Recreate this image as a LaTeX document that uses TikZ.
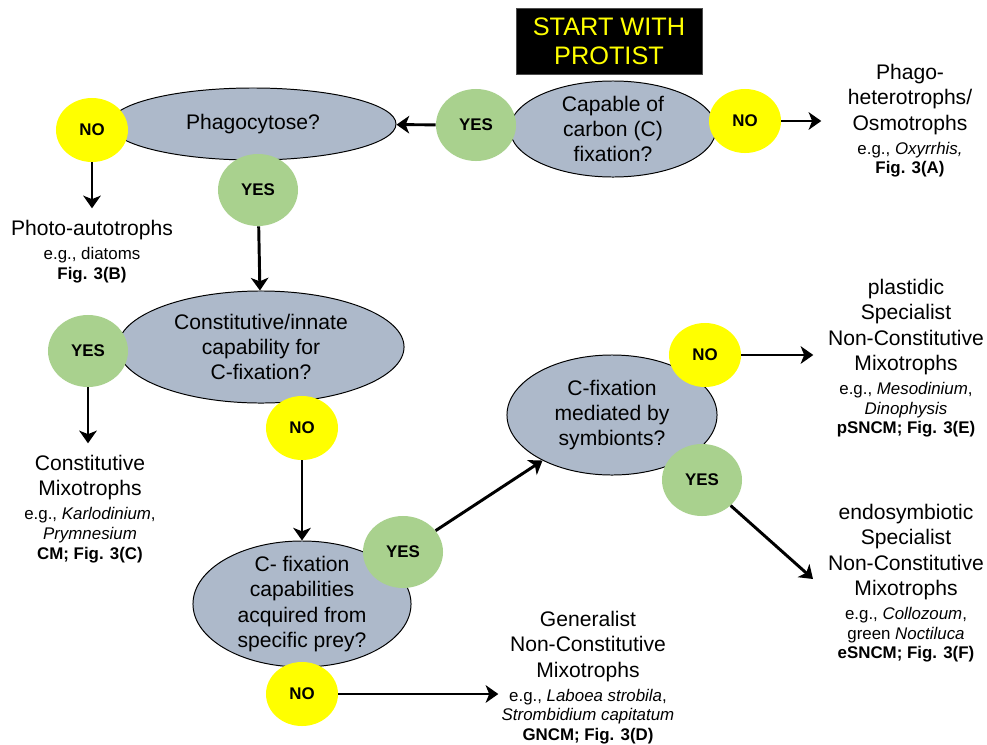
\documentclass[tikz,border=0pt]{standalone}
\usepackage{fontspec}
\setmainfont{Liberation Sans}
\usepackage{xcolor}
\usepackage{tikz}
\usetikzlibrary{shapes.geometric, positioning}
\usetikzlibrary{arrows.meta}
\tikzset{>={Stealth[length=9pt, width=12.5pt, inset=2.5pt]}}
\definecolor{qgray}{HTML}{ADB9CA}
\definecolor{yesgreen}{HTML}{A9D18E}
\definecolor{noyellow}{HTML}{FFFF00}
\newcommand{\egsize}{\fontsize{12}{14}\selectfont}

\begin{document}
\begin{tikzpicture}[x=0.025cm, y=-0.025cm,
    question/.style={ellipse, draw, fill=qgray, line width=0.7pt, inner sep=-8pt, align=center, font=\fontsize{15}{18}\selectfont},
    yesdot/.style={ellipse, fill=yesgreen, minimum width=2cm, minimum height=1.8cm, inner sep=0pt, font=\bfseries\fontsize{12}{14}\selectfont},
    nodot/.style={ellipse, fill=noyellow, minimum width=1.8cm, minimum height=1.6cm, inner sep=0pt, font=\bfseries\fontsize{12}{14}\selectfont},
    outcome/.style={anchor=north, align=center, inner sep=0pt, font=\fontsize{15}{18}\selectfont},
    flow/.style={->, line width=2.1pt}]
    \useasboundingbox (0,0) rectangle (987,744);
    \node[draw=black!70, fill=black, text=noyellow, minimum width=4.65cm, minimum height=1.65cm, align=center, font=\fontsize{18}{20.5}\selectfont] (start) at (609,41) {START WITH\\PROTIST};

    \node[question, minimum width=5.15cm, minimum height=2.4cm] (capable-q) at (613,129) {Capable of\\carbon (C)\\fixation?};
    \node[question, minimum width=7.15cm, minimum height=1.8cm] (phago-q) at (253,124) {Phagocytose?};
    \node[question, minimum width=7.15cm, minimum height=2.8cm] (const-q) at (261,347) {Constitutive/innate\\capability for\\C-fixation?};
    \node[question, minimum width=5.45cm, minimum height=3.15cm] (prey-q) at (302,604) {C- fixation\\capabilities\\acquired from\\specific prey?};
    \node[question, minimum width=5.25cm, minimum height=3cm] (symb-q) at (612,415) {C-fixation\\mediated by\\symbionts?};

    \node[yesdot] (capable-yes) at (476,125) {YES};
    \node[nodot] (capable-no) at (745,121) {NO};
    \node[yesdot] (phago-yes) at (258,190) {YES};
    \node[nodot] (phago-no) at (92,130) {NO};
    \node[yesdot] (const-yes) at (88,351) {YES};
    \node[nodot] (const-no) at (302,428) {NO};
    \node[yesdot] (prey-yes) at (403,552) {YES};
    \node[nodot] (prey-no) at (302,694) {NO};
    \node[nodot] (symb-no) at (705,355) {NO};
    \node[yesdot] (symb-yes) at (702,480) {YES};

    \node[outcome] (phago-het) at (910,64) {Phago-\\heterotrophs/\\Osmotrophs\\[-1pt]{\egsize e.g., \textit{Oxyrrhis,}}\\[-4pt]{\egsize\bfseries Fig. 3(A)}};
    \node[outcome] (photo-auto) at (92,220) {Photo-autotrophs\\[-1pt]{\egsize e.g., diatoms}\\[-4pt]{\egsize\bfseries Fig. 3(B)}};
    \node[outcome] (const-mixo) at (90,455) {Constitutive\\Mixotrophs\\[-1pt]{\egsize e.g., \textit{Karlodinium},}\\[-4pt]{\egsize\textit{Prymnesium}}\\[-4pt]{\egsize\bfseries CM; Fig. 3(C)}};
    \node[outcome] (gen-ncm) at (588,611) {Generalist\\Non-Constitutive\\Mixotrophs\\[-1pt]{\egsize e.g., \textit{Laboea strobila},}\\[-4pt]{\egsize\textit{Strombidium capitatum}}\\[-4pt]{\egsize\bfseries GNCM; Fig. 3(D)}};
    \node[outcome] (plast-sncm) at (906,279) {plastidic\\Specialist\\Non-Constitutive\\Mixotrophs\\[-1pt]{\egsize e.g., \textit{Mesodinium},}\\[-4pt]{\egsize\textit{Dinophysis}}\\[-4pt]{\egsize\bfseries pSNCM; Fig. 3(E)}};
    \node[outcome] (endo-sncm) at (906,504) {endosymbiotic\\Specialist\\Non-Constitutive\\Mixotrophs\\[-1pt]{\egsize e.g., \textit{Collozoum},}\\[-4pt]{\egsize green \textit{Noctiluca}}\\[-4pt]{\egsize\bfseries eSNCM; Fig. 3(F)}};

    \coordinate[right=1cm of capable-no.east] (phago-het-end);
    \coordinate[below=1.15cm of phago-no.south] (photo-auto-end);
    \coordinate[below=1.4cm of const-yes.south] (const-mixo-end);
    \coordinate[right=4cm of prey-no.east] (gen-ncm-end);
    \coordinate[right=1.8cm of symb-no.east] (plast-sncm-end);
    \coordinate (endo-sncm-end) at (813,579);

    \draw[flow] (capable-yes) -- (phago-q);
    \draw[flow] (capable-no) -- (phago-het-end);
    \draw[flow] (phago-no) -- (photo-auto-end);
    \draw[flow] (phago-yes) -- (const-q);
    \draw[flow] (const-yes) -- (const-mixo-end);
    \draw[flow] (const-no) -- (prey-q);
    \draw[flow] (prey-yes) -- (symb-q);
    \draw[flow] (prey-no) -- (gen-ncm-end);
    \draw[flow] (symb-no) -- (plast-sncm-end);
    \draw[flow] (symb-yes) -- (endo-sncm-end);
\end{tikzpicture}
\end{document}
